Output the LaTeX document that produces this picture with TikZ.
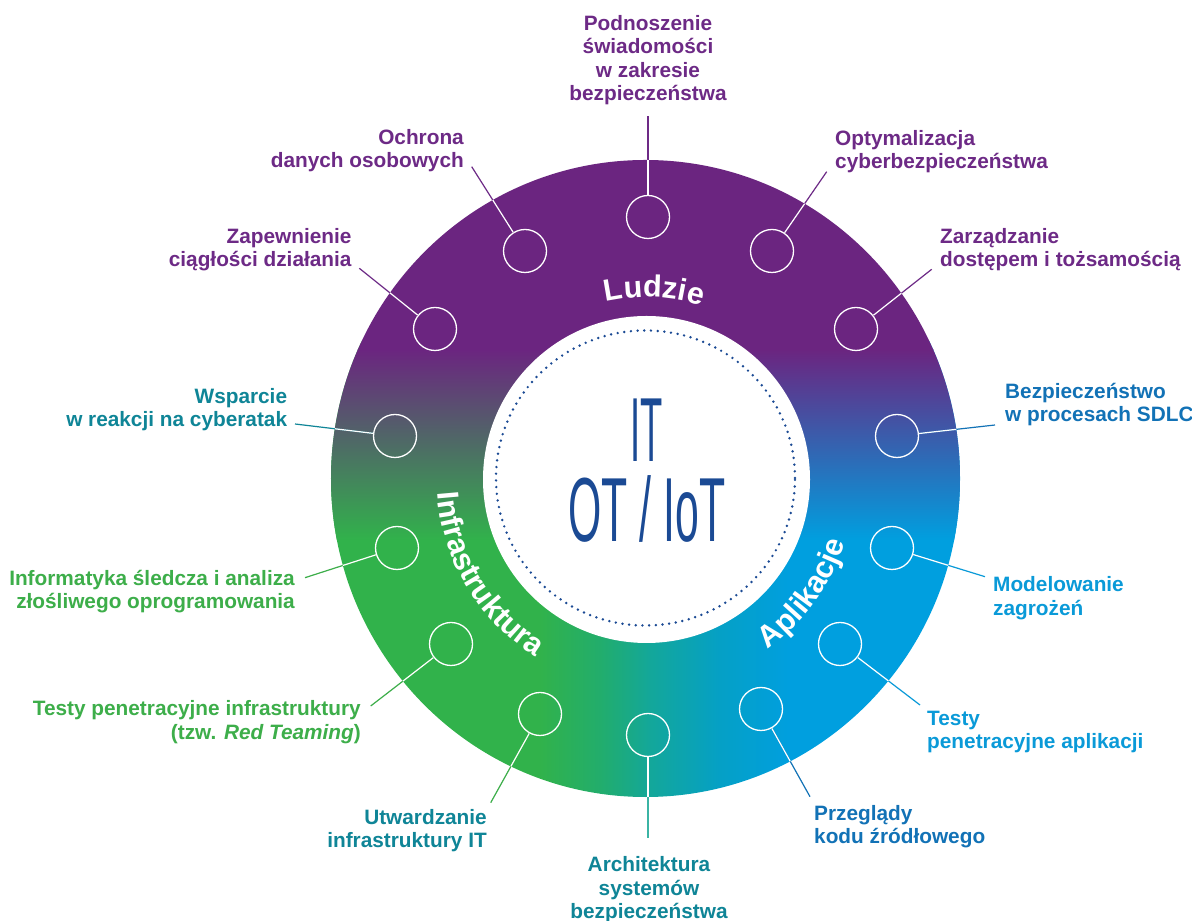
\documentclass[tikz,border=0pt]{standalone}
\usepackage{fontspec}
\setmainfont{Liberation Sans}
\usetikzlibrary{decorations.text}
\definecolor{ringpurple}{HTML}{6B2580}
\definecolor{ptext}{HTML}{6D2A86}
\definecolor{gG}{HTML}{31B24B}
\definecolor{gGtwo}{HTML}{22AD6C}
\definecolor{gT}{HTML}{13A79A}
\definecolor{gBtwo}{HTML}{05A0C6}
\definecolor{gB}{HTML}{009FDF}
\definecolor{centerblue}{HTML}{1B4A94}
\definecolor{tealtext}{HTML}{0F8597}
\definecolor{greentext}{HTML}{3DAE4A}
\definecolor{darkbluetext}{HTML}{1272B6}
\definecolor{lightbluetext}{HTML}{0A9AD8}
\definecolor{archline}{HTML}{3BB4A4}
\newcommand\labfont{\fontsize{20.8bp}{23.5bp}\selectfont\bfseries}
\newcommand\ringfont{\fontsize{30.5bp}{30.5bp}\selectfont\bfseries}
\newcommand\centerfont{\fontsize{91bp}{91bp}\selectfont}
\newcommand\firstline{\rule{0pt}{20bp}}
\tikzset{
  lab/.style={inner sep=0pt, font=\labfont},
  ringspot/.style={circle, draw=white, line width=1.3bp, minimum size=43bp, inner sep=0pt},
  conn/.style={line width=1.2bp},
  ringlabel/.style={decorate, decoration={text along path, text={|\ringfont|#1}, text align=center, text color=white}}
}
\begin{document}
\begin{tikzpicture}[x=1bp,y=1bp]
\useasboundingbox (0,0) rectangle (1192,921);
\fill[white] (0,0) rectangle (1192,921);
% ring with gradient
\begin{scope}
\clip (645.5,442.5) ellipse [x radius=314.5bp, y radius=318.5bp];
\fill[gG] (320,100) rectangle (540.5,580);
\shade[left color=gG, right color=gGtwo] (540,100) rectangle (600.5,580);
\shade[left color=gGtwo, right color=gT] (600,100) rectangle (650.5,580);
\shade[left color=gT, right color=gBtwo] (650,100) rectangle (720.5,580);
\shade[left color=gBtwo, right color=gB] (720,100) rectangle (790.5,580);
\fill[gB] (790,100) rectangle (970,580);
\shade[top color=ringpurple, bottom color=gG] (320,381) rectangle (646.5,571.5);
\shade[top color=ringpurple, bottom color=gB] (646,381) rectangle (970,571.5);
\fill[ringpurple] (320,571) rectangle (970,770);
\end{scope}
% inner disc
\fill[white] (646.5,441.5) circle [radius=163.5bp];
\draw[centerblue, line width=2.7bp, line cap=round, dash pattern=on 0bp off 6.7bp] (645.5,443) ellipse [x radius=149.5bp, y radius=147.5bp];
\node[inner sep=0pt, anchor=base, text=centerblue, font=\centerfont] (it) at (647,459) {\scalebox{0.40}[1]{IT}};
\node[inner sep=0pt, anchor=base, text=centerblue, font=\centerfont] (otiot) at (647,379) {\scalebox{0.47}[1]{OT / IoT}};
% ring labels
\path[ringlabel=Ludzie] (535.2,586.4) arc[start angle=127.5, end angle=47.5, radius=182bp];
\path[ringlabel=Infrastruktura] (463.2,543.3) arc[start angle=151, end angle=271, radius=209bp];
\path[ringlabel=Aplikacje] (714.0,244.4) arc[start angle=-71, end angle=-1, radius=209bp];
% small circles
\node[ringspot] (c1) at (648,704) {};
\node[ringspot] (c2) at (772,670) {};
\node[ringspot] (c3) at (856,592) {};
\node[ringspot] (c4) at (897,485) {};
\node[ringspot] (c5) at (892,373) {};
\node[ringspot] (c6) at (840,277) {};
\node[ringspot] (c7) at (761,212) {};
\node[ringspot] (c8) at (648,186) {};
\node[ringspot] (c9) at (540,207) {};
\node[ringspot] (c10) at (451,277) {};
\node[ringspot] (c11) at (397,373) {};
\node[ringspot] (c12) at (395,485) {};
\node[ringspot] (c13) at (435,592) {};
\node[ringspot] (c14) at (525,670) {};
% connector end points
\coordinate (e1) at (648,805);
\coordinate (e2) at (826.7,749.3);
\coordinate (e3) at (931.7,651.7);
\coordinate (e4) at (995,496);
\coordinate (e5) at (985,344.3);
\coordinate (e6) at (920,216);
\coordinate (e7) at (810,124.3);
\coordinate (e8) at (648,83);
\coordinate (e9) at (490.7,118.3);
\coordinate (e10) at (370.7,215);
\coordinate (e11) at (305,343.3);
\coordinate (e12) at (295,497);
\coordinate (e13) at (359.3,652.7);
\coordinate (e14) at (471.7,754.3);
% connectors
\draw[conn, ptext] (c1) -- (e1);
\draw[conn, ptext] (c2) -- (e2);
\draw[conn, ptext] (c3) -- (e3);
\draw[conn, darkbluetext] (c4) -- (e4);
\draw[conn, lightbluetext] (c5) -- (e5);
\draw[conn, lightbluetext] (c6) -- (e6);
\draw[conn, darkbluetext] (c7) -- (e7);
\draw[conn, archline] (c8) -- (e8);
\draw[conn, greentext] (c9) -- (e9);
\draw[conn, greentext] (c10) -- (e10);
\draw[conn, greentext] (c11) -- (e11);
\draw[conn, tealtext] (c12) -- (e12);
\draw[conn, ptext] (c13) -- (e13);
\draw[conn, ptext] (c14) -- (e14);
\begin{scope}
\clip (645.5,442.5) ellipse [x radius=314.5bp, y radius=318.5bp];
\foreach \i in {1,...,14} { \draw[conn, white] (c\i) -- (e\i); }
\end{scope}
% labels
\node[lab, text=ptext, align=center, anchor=north] (l1) at (648,911) {\firstline Podnoszenie\\świadomości\\w zakresie\\bezpieczeństwa};
\node[lab, text=ptext, align=left, anchor=north west] (l2) at (835,796) {\firstline Optymalizacja\\cyberbezpieczeństwa};
\node[lab, text=ptext, align=left, anchor=north west] (l3) at (940,697.7) {\firstline Zarządzanie\\dostępem i tożsamością};
\node[lab, text=darkbluetext, align=left, anchor=north west] (l4) at (1005,542.7) {\firstline Bezpieczeństwo\\w procesach SDLC};
\node[lab, text=lightbluetext, align=left, anchor=north west] (l5) at (993,349.3) {\firstline Modelowanie\\zagrożeń};
\node[lab, text=lightbluetext, align=left, anchor=north west] (l6) at (927,216) {\firstline Testy\\penetracyjne aplikacji};
\node[lab, text=darkbluetext, align=left, anchor=north west] (l7) at (814,121) {\firstline Przeglądy\\kodu źródłowego};
\node[lab, text=tealtext, align=center, anchor=north] (l8) at (649,69.3) {\firstline Architektura\\systemów\\bezpieczeństwa};
\node[lab, text=tealtext, align=right, anchor=north east] (l9) at (487,117) {\firstline Utwardzanie\\infrastruktury IT};
\node[lab, text=greentext, align=right, anchor=north east] (l10) at (361,225.3) {\firstline Testy penetracyjne infrastruktury\\(tzw. \textit{Red Teaming})};
\node[lab, text=greentext, align=right, anchor=north east] (l11) at (295,356) {\firstline Informatyka śledcza i analiza\\złośliwego oprogramowania};
\node[lab, text=tealtext, align=right, anchor=north east] (l12) at (287.3,537.7) {\firstline Wsparcie\\w reakcji na cyberatak};
\node[lab, text=ptext, align=right, anchor=north east] (l13) at (351.7,697.7) {\firstline Zapewnienie\\ciągłości działania};
\node[lab, text=ptext, align=right, anchor=north east] (l14) at (464,797) {\firstline Ochrona\\danych osobowych};
\end{tikzpicture}
\end{document}
